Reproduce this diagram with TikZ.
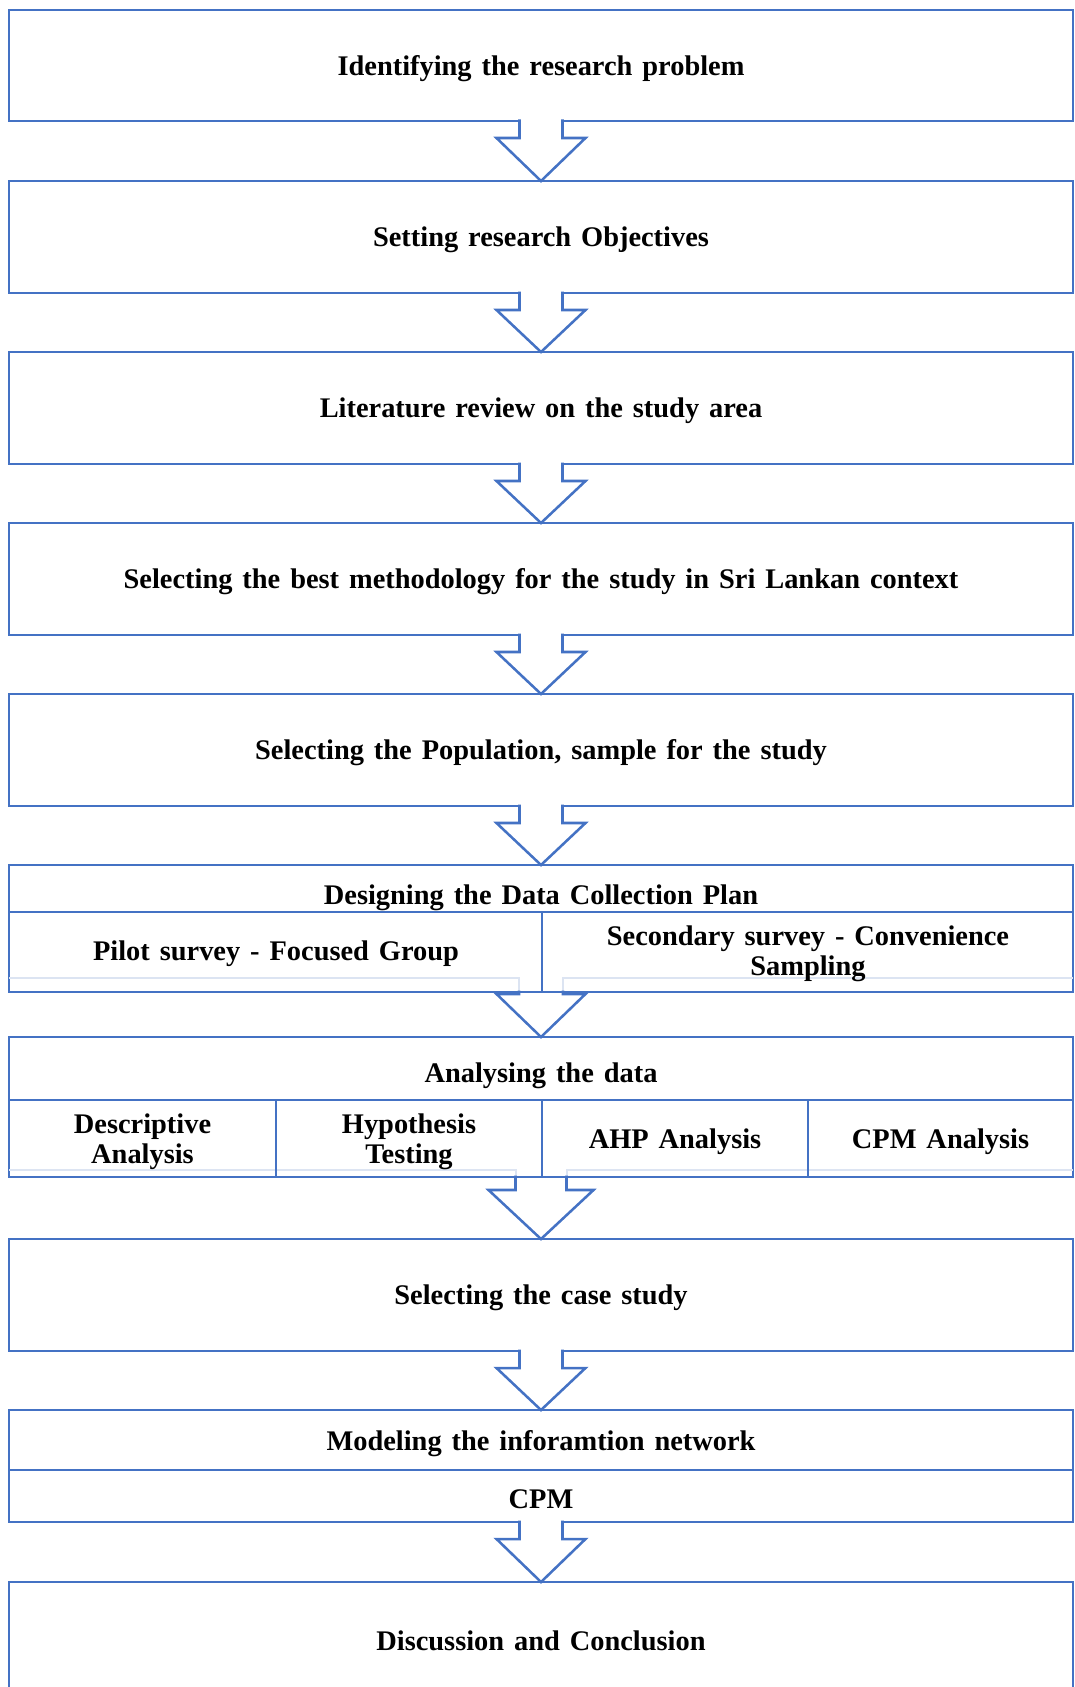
\documentclass[tikz,border=0pt]{standalone}
\usepackage{fontspec}
\setmainfont[WordSpace=1.4]{Liberation Serif}
\usetikzlibrary{fit,calc}
\definecolor{flowblue}{HTML}{4472C4}
\definecolor{paleblue}{HTML}{DCE4F2}

% block arrow: style, from-node, to-node, stem half width, head half width, head drop
\newcommand{\blockarrow}[6]{%
  \path[#1] ($(#2.south)+(-#4,-1.5)$) -- ($(#2.south)+(-#4,#6)$)
    -- ($(#2.south)+(-#5,#6)$) -- (#3.north)
    -- ($(#2.south)+(#5,#6)$) -- ($(#2.south)+(#4,#6)$)
    -- ($(#2.south)+(#4,-1.5)$);}

\begin{document}
\begin{tikzpicture}[x=0.75pt,y=-0.75pt,
  font=\fontsize{21.3}{22.5}\selectfont\bfseries,
  box/.style={draw=flowblue, line width=1.9pt, rectangle, inner sep=0pt,
    outer sep=0pt},
  txt/.style={inner sep=0pt, align=center, yshift=-2.2pt},
  divider/.style={draw=flowblue, line width=1.5pt},
  ghost/.style={draw=paleblue, line width=1.5pt},
  flowarrow/.style={draw=flowblue, line width=1.9pt, fill=white, line join=miter},
  openarrow/.style={draw=flowblue, line width=1.9pt, line join=miter}]

\useasboundingbox (0,0) rectangle (1074,1687);

% simple steps
\node[box, fit={(9,10) (1073,121)}] (b1) {};
\node[txt] (t1) at (b1.center) {Identifying the research problem};
\node[box, fit={(9,181) (1073,293)}] (b2) {};
\node[txt] (t2) at (b2.center) {Setting research Objectives};
\node[box, fit={(9,352) (1073,464)}] (b3) {};
\node[txt] (t3) at (b3.center) {Literature review on the study area};
\node[box, fit={(9,523) (1073,635)}] (b4) {};
\node[txt] (t4) at (b4.center) {Selecting the best methodology for the study in Sri Lankan context};
\node[box, fit={(9,694) (1073,806)}] (b5) {};
\node[txt] (t5) at (b5.center) {Selecting the Population, sample for the study};

% data collection plan
\node[box, fit={(9,865) (1073,992)}] (b6) {};
\draw[ghost] ($(b6.south west)+(0,-14)$) -- ($(b6.south)+(-22,-14)$) -- ($(b6.south)+(-22,0)$);
\draw[ghost] ($(b6.south east)+(0,-14)$) -- ($(b6.south)+(22,-14)$) -- ($(b6.south)+(22,0)$);
\draw[divider] (9,912) -- (1073,912);
\draw[divider] (542,912) -- (542,992);
\node[txt] (b6h) at (541,895) {Designing the Data Collection Plan};
\node[txt] (b6a) at (276,951) {Pilot survey - Focused Group};
\node[txt] (b6b) at (808,951) {Secondary survey - Convenience\\Sampling};

% data analysis
\node[box, fit={(9,1037) (1073,1177)}] (b7) {};
\draw[ghost] ($(b7.south west)+(0,-7)$) -- ($(b7.south)+(-25.5,-7)$) -- ($(b7.south)+(-25.5,0)$);
\draw[ghost] ($(b7.south east)+(0,-7)$) -- ($(b7.south)+(25.5,-7)$) -- ($(b7.south)+(25.5,0)$);
\draw[divider] (9,1100) -- (1073,1100);
\draw[divider] (276,1100) -- (276,1177);
\draw[divider] (542,1100) -- (542,1177);
\draw[divider] (808,1100) -- (808,1177);
\node[txt] (b7h) at (541,1073) {Analysing the data};
\node[txt] (b7a) at (142.5,1139) {Descriptive\\Analysis};
\node[txt] (b7b) at (409,1139) {Hypothesis\\Testing};
\node[txt] (b7c) at (675,1139) {AHP Analysis};
\node[txt] (b7d) at (940.5,1139) {CPM Analysis};

\node[box, fit={(9,1239) (1073,1351)}] (b8) {};
\node[txt] (t8) at (b8.center) {Selecting the case study};

% network model
\node[box, fit={(9,1410) (1073,1522)}] (b9) {};
\draw[divider] (9,1470) -- (1073,1470);
\node[txt] (b9h) at (541,1441) {Modeling the inforamtion network};
\node[txt] (b9a) at (541,1496) {CPM};

\node[box, fit={(9,1582) (1073,1700)}] (b10) {};
\node[txt] (t10) at (541,1638) {Discussion and Conclusion};

% connecting block arrows
\blockarrow{flowarrow}{b1}{b2}{21.5}{44.5}{17}
\blockarrow{flowarrow}{b2}{b3}{21.5}{44.5}{17}
\blockarrow{flowarrow}{b3}{b4}{21.5}{44.5}{17}
\blockarrow{flowarrow}{b4}{b5}{21.5}{44.5}{17}
\blockarrow{flowarrow}{b5}{b6}{21.5}{44.5}{17}
\blockarrow{openarrow}{b6}{b7}{22}{44.5}{2}
\blockarrow{openarrow}{b7}{b8}{25.5}{52.5}{13}
\blockarrow{flowarrow}{b8}{b9}{21.5}{44.5}{17}
\blockarrow{flowarrow}{b9}{b10}{21.5}{44.5}{17}
\end{tikzpicture}
\end{document}
